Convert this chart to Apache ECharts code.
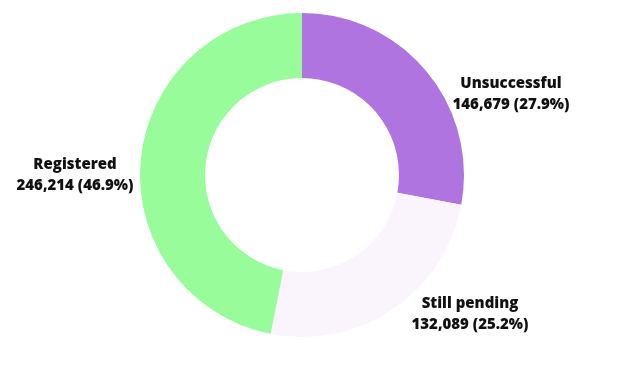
<!DOCTYPE html>
<html>
<head>
<meta charset="utf-8">
<script src="https://cdn.jsdelivr.net/npm/echarts@6/dist/echarts.min.js"></script>
<style>html,body{margin:0;padding:0;background:#fff}#c{width:624px;height:372px}</style>
</head>
<body>
<div id="c"></div>
<script>
const categories = ["Unsuccessful", "Still pending", "Registered"];
const values = [146679, 132089, 246214];
const percents = ["27.9%", "25.2%", "46.9%"];
const colors = ["#AF74E0", "#FAF4FD", "#98FC9A"];
const labelPos = [[511, 94], [470, 314], [75, 175]];

const chart = echarts.init(document.getElementById('c'), null, {renderer: 'canvas'});
chart.setOption({
  animation: false,
  series: [{
    type: 'pie',
    center: [302, 175],
    radius: [97, 162],
    startAngle: 90,
    clockwise: true,
    avoidLabelOverlap: false,
    data: categories.map((n, i) => ({name: n, value: values[i], itemStyle: {color: colors[i]}})),
    label: {
      show: true,
      position: 'outside',
      formatter: p => p.name + '\n' + p.value.toLocaleString('en-US') + ' (' + percents[p.dataIndex] + ')',
      fontFamily: 'Open Sans',
      fontWeight: 800,
      fontSize: 15,
      lineHeight: 21,
      color: '#111',
      align: 'center',
      overflow: 'none',
      width: 200
    },
    labelLine: {show: false},
    labelLayout: p => ({x: labelPos[p.dataIndex][0], y: labelPos[p.dataIndex][1], align: 'center', verticalAlign: 'middle'}),
    emphasis: {disabled: true}
  }]
});
</script>
</body>
</html>
